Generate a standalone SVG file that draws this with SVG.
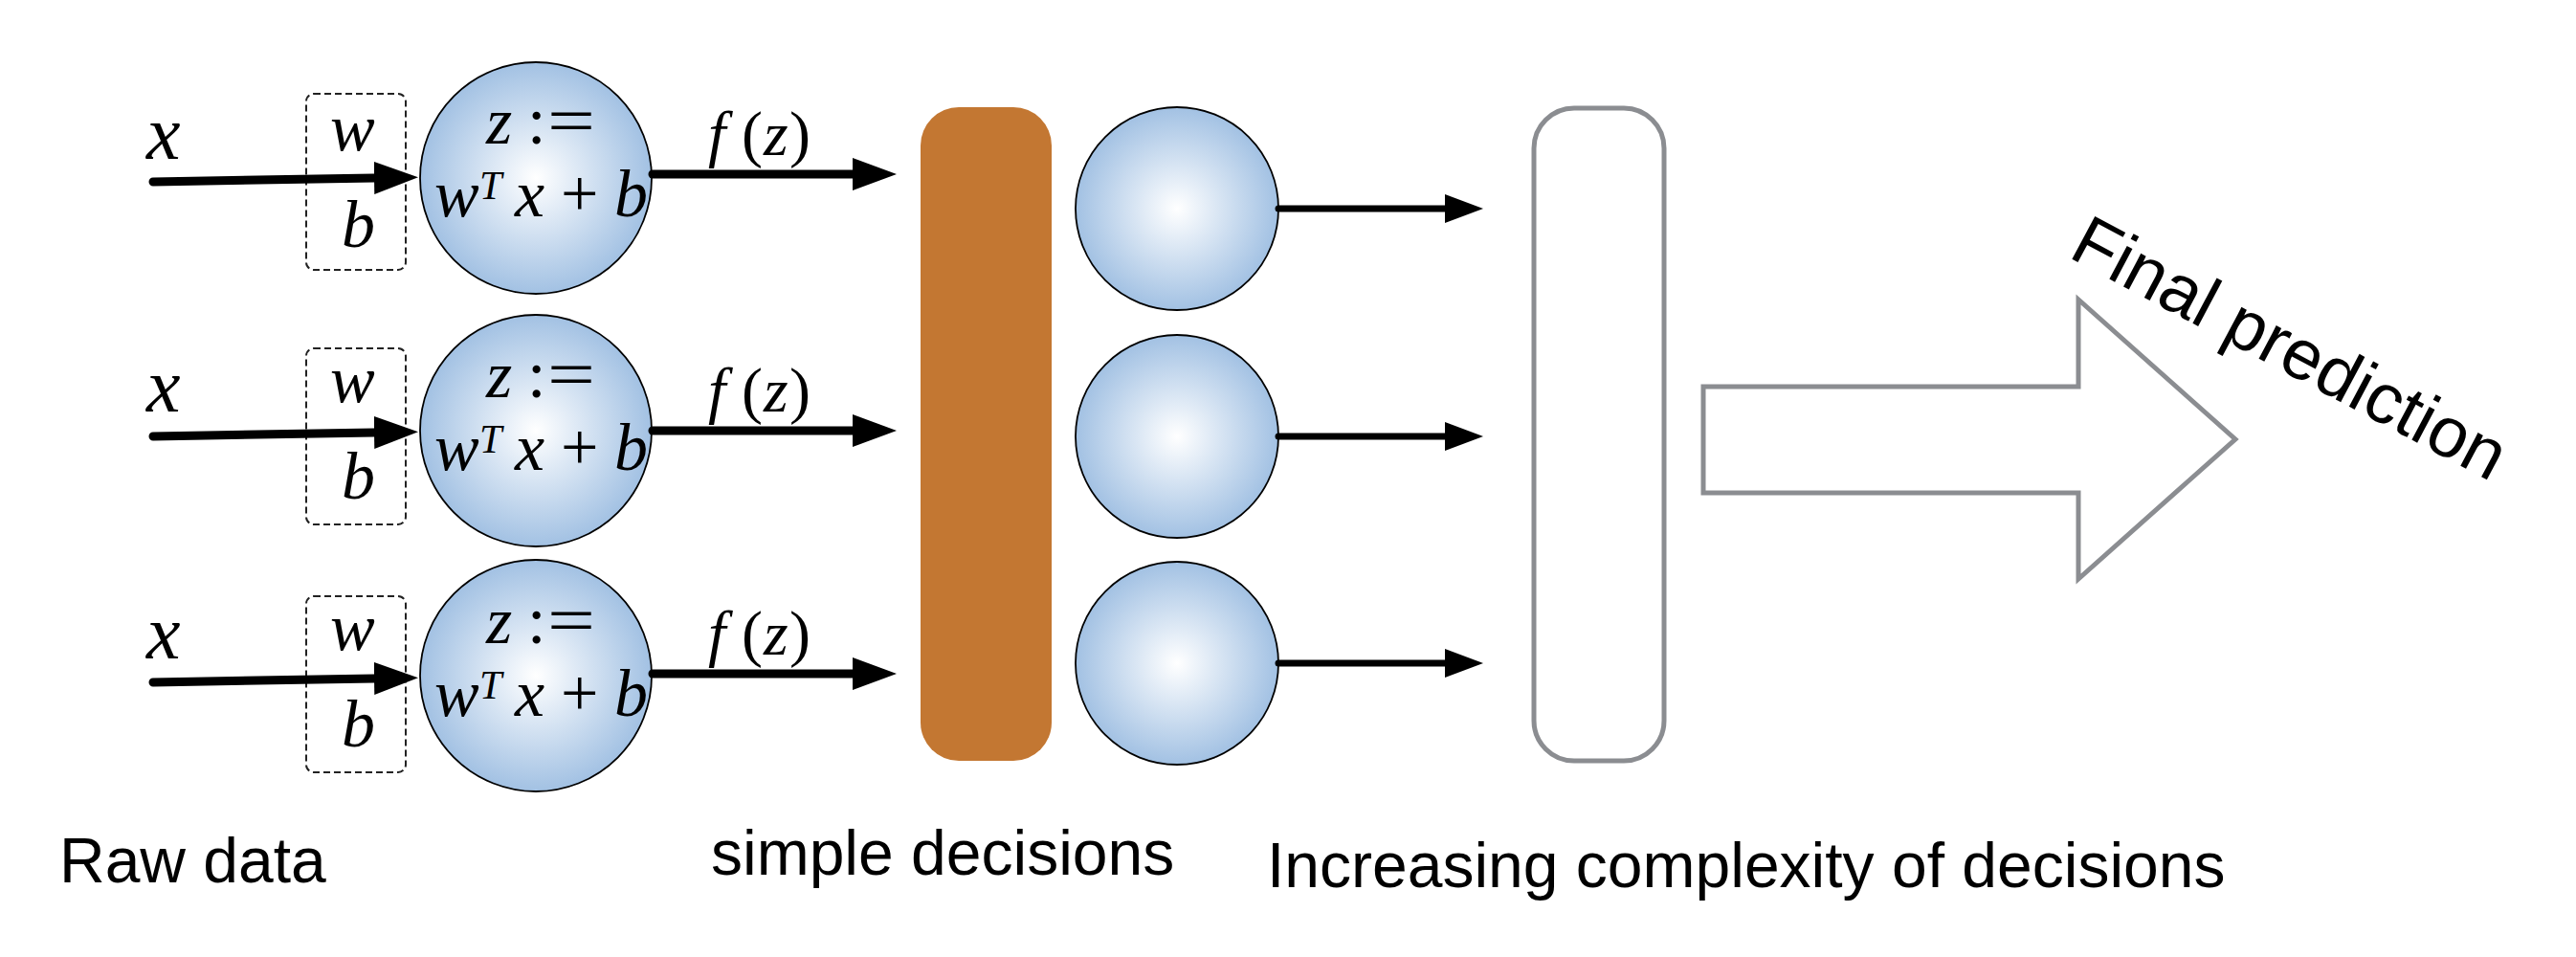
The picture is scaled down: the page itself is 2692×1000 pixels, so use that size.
<svg xmlns="http://www.w3.org/2000/svg" width="2692" height="1000" viewBox="0 0 2692 1000">
<defs>
<radialGradient id="ball" cx="50%" cy="50%" r="50%">
<stop offset="0" stop-color="#ffffff"/>
<stop offset="1" stop-color="#a2c1e3"/>
</radialGradient>
<marker id="headL" markerUnits="userSpaceOnUse" markerWidth="46" markerHeight="34" viewBox="0 0 46 34" refX="0" refY="17" orient="auto">
<path d="M0,0 L46,17 L0,34 Z" fill="#000"/>
</marker>
<marker id="headS" markerUnits="userSpaceOnUse" markerWidth="40" markerHeight="30" viewBox="0 0 40 30" refX="0" refY="15" orient="auto">
<path d="M0,0 L40,15 L0,30 Z" fill="#000"/>
</marker>
</defs>
<style>
.m{font-family:"Liberation Serif","DejaVu Serif",serif;font-style:italic;fill:#000}
.up{font-style:normal}
.lab{font-family:"Liberation Sans",Arial,Helvetica,sans-serif;font-size:66px;fill:#000}
.ball{fill:url(#ball);stroke:#000;stroke-width:1.8}
.wb{fill:none;stroke:#222;stroke-width:2;stroke-dasharray:7 4}
.thick{fill:none;stroke:#000;stroke-width:9;stroke-linecap:round;marker-end:url(#headL)}
.thin{fill:none;stroke:#000;stroke-width:7;stroke-linecap:round;marker-end:url(#headS)}
.grey{fill:#fff;stroke:#8b8d91;stroke-width:5}
</style>
<rect width="2692" height="1000" fill="#fff"/>

<!-- input rows -->
<g id="input1">
<text class="m" x="153" y="166" font-size="80">x</text>
<rect class="wb" x="320" y="98" width="104" height="184" rx="8"/>
<text class="m" x="345" y="157" font-size="70">w</text>
<text class="m" x="357" y="258" font-size="70">b</text>
</g>
<g id="input2">
<text class="m" x="153" y="430" font-size="80">x</text>
<rect class="wb" x="320" y="364" width="104" height="184" rx="8"/>
<text class="m" x="345" y="420" font-size="70">w</text>
<text class="m" x="357" y="521" font-size="70">b</text>
</g>
<g id="input3">
<text class="m" x="153" y="688" font-size="80">x</text>
<rect class="wb" x="320" y="623" width="104" height="184" rx="8"/>
<text class="m" x="345" y="679" font-size="70">w</text>
<text class="m" x="357" y="780" font-size="70">b</text>
</g>

<!-- neurons layer 1 -->
<g id="neuron1">
<circle class="ball" cx="560" cy="186" r="121"/>
<text class="m" y="150" font-size="70"><tspan x="508">z</tspan><tspan x="551" class="up">:</tspan></text>
<text class="m up" x="572" y="150" font-size="70" textLength="50" lengthAdjust="spacingAndGlyphs">=</text>
<text class="m" y="226" font-size="70"><tspan x="454">w</tspan><tspan x="501" y="208" font-size="42">T</tspan><tspan x="538" y="226">x</tspan><tspan x="586" class="up">+</tspan><tspan x="642">b</tspan></text>
</g>
<g id="neuron2">
<circle class="ball" cx="560" cy="450" r="121"/>
<text class="m" y="415" font-size="70"><tspan x="508">z</tspan><tspan x="551" class="up">:</tspan></text>
<text class="m up" x="572" y="415" font-size="70" textLength="50" lengthAdjust="spacingAndGlyphs">=</text>
<text class="m" y="491" font-size="70"><tspan x="454">w</tspan><tspan x="501" y="473" font-size="42">T</tspan><tspan x="538" y="491">x</tspan><tspan x="586" class="up">+</tspan><tspan x="642">b</tspan></text>
</g>
<g id="neuron3">
<circle class="ball" cx="560" cy="706" r="121"/>
<text class="m" y="672" font-size="70"><tspan x="508">z</tspan><tspan x="551" class="up">:</tspan></text>
<text class="m up" x="572" y="672" font-size="70" textLength="50" lengthAdjust="spacingAndGlyphs">=</text>
<text class="m" y="748" font-size="70"><tspan x="454">w</tspan><tspan x="501" y="730" font-size="42">T</tspan><tspan x="538" y="748">x</tspan><tspan x="586" class="up">+</tspan><tspan x="642">b</tspan></text>
</g>

<!-- simple decisions bar -->
<g id="simple-bar">
<rect x="962" y="112" width="137" height="683" rx="40" fill="#c37732"/>
</g>

<!-- neurons layer 2 -->
<g id="neuron2-1"><circle class="ball" cx="1230" cy="218" r="106"/></g>
<g id="neuron2-2"><circle class="ball" cx="1230" cy="456" r="106"/></g>
<g id="neuron2-3"><circle class="ball" cx="1230" cy="693" r="106"/></g>

<!-- complexity layer -->
<g id="complex-bar">
<rect class="grey" x="1603" y="113" width="136" height="682" rx="42"/>
</g>

<!-- final arrow -->
<g id="final-prediction">
<polygon class="grey" points="1780,404 2172,404 2172,313 2336,459 2172,605 2172,515 1780,515"/>
<text class="lab" style="font-size:74px" transform="translate(2160,268) rotate(28)">Final prediction</text>
</g>

<!-- connectors -->
<g id="connectors">
<path class="thick" d="M160,190 L391,186"/>
<path class="thick" d="M160,456 L391,452"/>
<path class="thick" d="M160,713 L391,709"/>
<path class="thick" d="M682,182 L891,182"/>
<path class="thick" d="M682,450 L891,450"/>
<path class="thick" d="M682,704 L891,704"/>
<text class="m" y="162" font-size="66"><tspan x="740">f</tspan><tspan x="775" class="up">(</tspan><tspan x="798">z</tspan><tspan x="825" class="up">)</tspan></text>
<text class="m" y="430" font-size="66"><tspan x="740">f</tspan><tspan x="775" class="up">(</tspan><tspan x="798">z</tspan><tspan x="825" class="up">)</tspan></text>
<text class="m" y="684" font-size="66"><tspan x="740">f</tspan><tspan x="775" class="up">(</tspan><tspan x="798">z</tspan><tspan x="825" class="up">)</tspan></text>
<path class="thin" d="M1336,218 L1510,218"/>
<path class="thin" d="M1336,456 L1510,456"/>
<path class="thin" d="M1336,693 L1510,693"/>
</g>

<!-- bottom labels -->
<g id="labels">
<text class="lab" x="62" y="922">Raw data</text>
<text class="lab" x="743" y="914">simple decisions</text>
<text class="lab" x="1324" y="927">Increasing complexity of decisions</text>
</g>
</svg>
